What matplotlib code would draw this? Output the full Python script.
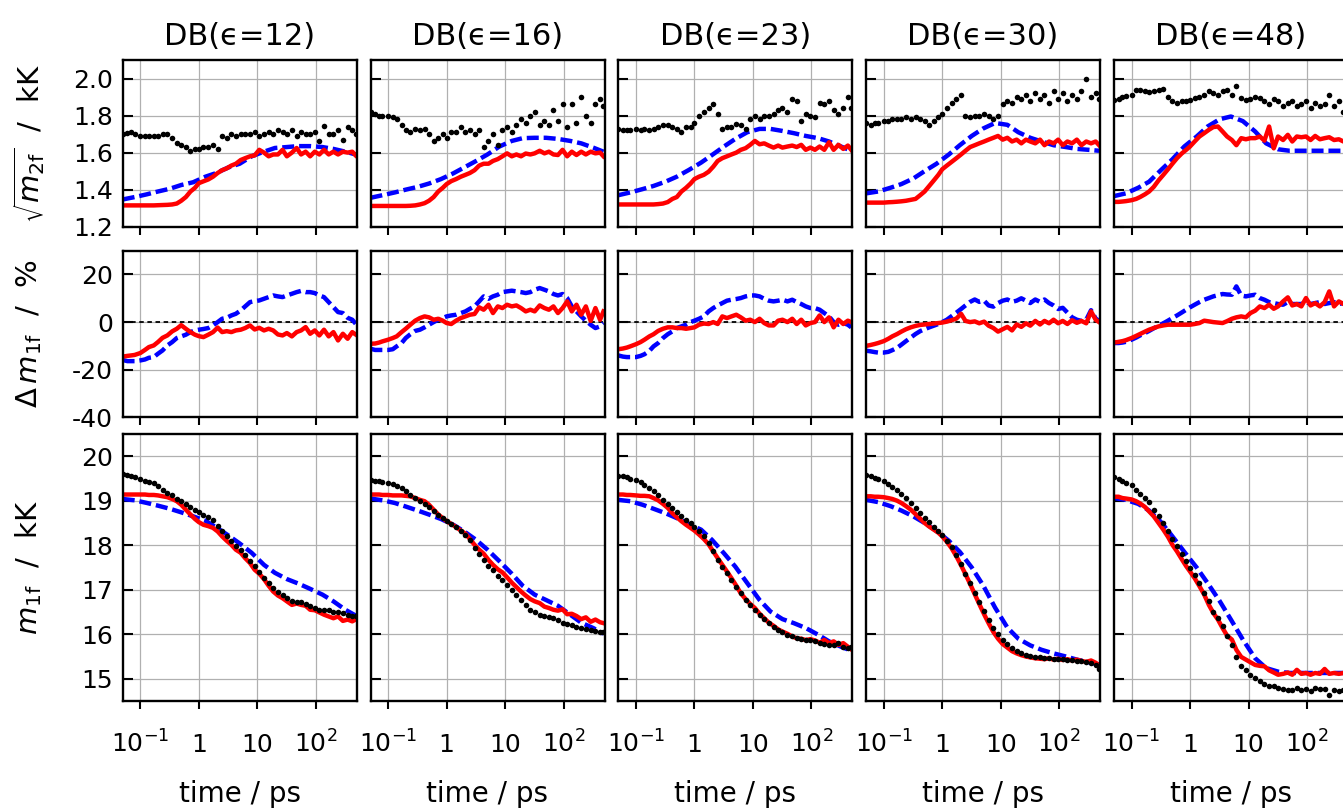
import matplotlib
matplotlib.use("Agg")
import matplotlib.pyplot as plt
from matplotlib.ticker import FixedLocator, FixedFormatter, LogLocator, NullFormatter

plt.rcParams['font.family'] = ['DejaVu Sans']
plt.rcParams['mathtext.fontset'] = 'dejavusans'
plt.rcParams['axes.unicode_minus'] = False

# --- data ---------------------------------------------------------------
eps_list = [12, 16, 23, 30, 48]

t_fine = [0.05, 0.06, 0.07, 0.08, 0.1, 0.12, 0.14, 0.17, 0.2, 0.24,
          0.29, 0.35, 0.42, 0.5, 0.6, 0.72, 0.86, 1.0, 1.2, 1.45,
          1.75, 2.1, 2.5, 3.0, 3.6, 4.3, 5.2, 6.2, 7.5, 9.0,
          10.8, 13, 15.6, 18.7, 22.5, 27, 32, 39, 47, 56,
          67, 80, 96, 115, 138, 166, 200, 240, 290, 350,
          420, 480]
t_coarse = [0.05, 0.08, 0.13, 0.2, 0.32, 0.5, 0.8, 1.3, 2, 3.2,
            5, 8, 13, 20, 32, 50, 80, 130, 200, 320, 480]

# sqrt(m2f) / kK
dots_sq_12 = [1.70, 1.705, 1.71, 1.70, 1.69, 1.69, 1.69, 1.69, 1.69, 1.70,
              1.70, 1.68, 1.65, 1.64, 1.63, 1.61, 1.62, 1.62, 1.63, 1.63,
              1.64, 1.62, 1.69, 1.68, 1.70, 1.69, 1.70, 1.70, 1.70, 1.71,
              1.69, 1.70, 1.71, 1.70, 1.72, 1.71, 1.70, 1.72, 1.69, 1.71,
              1.70, 1.70, 1.71, 1.66, 1.745, 1.70, 1.70, 1.72, 1.67, 1.74,
              1.72, 1.70]
red_sq_12 = [1.315, 1.315, 1.315, 1.315, 1.315, 1.315, 1.315, 1.315, 1.316, 1.317,
             1.318, 1.32, 1.325, 1.34, 1.36, 1.39, 1.41, 1.435, 1.445, 1.455,
             1.47, 1.49, 1.505, 1.515, 1.53, 1.54, 1.56, 1.57, 1.58, 1.585,
             1.615, 1.60, 1.58, 1.59, 1.59, 1.615, 1.58, 1.60, 1.625, 1.59,
             1.605, 1.58, 1.605, 1.59, 1.615, 1.59, 1.605, 1.59, 1.605, 1.60,
             1.605, 1.585]
blue_sq_12 = [1.347, 1.36, 1.375, 1.39, 1.405, 1.425, 1.44, 1.47, 1.49, 1.52,
              1.54, 1.58, 1.605, 1.625, 1.63, 1.635, 1.635, 1.63, 1.62, 1.605, 1.59]

dots_sq_16 = [1.82, 1.81, 1.80, 1.80, 1.80, 1.79, 1.78, 1.75, 1.72, 1.71,
              1.73, 1.72, 1.73, 1.70, 1.66, 1.68, 1.70, 1.68, 1.71, 1.71,
              1.74, 1.71, 1.72, 1.70, 1.72, 1.63, 1.66, 1.70, 1.64, 1.72,
              1.74, 1.71, 1.75, 1.78, 1.76, 1.80, 1.82, 1.75, 1.77, 1.75,
              1.83, 1.77, 1.86, 1.74, 1.86, 1.76, 1.90, 1.80, 1.76, 1.86,
              1.89, 1.85]
red_sq_16 = [1.312, 1.312, 1.312, 1.312, 1.312, 1.312, 1.312, 1.312, 1.312, 1.313,
             1.315, 1.32, 1.327, 1.34, 1.36, 1.39, 1.41, 1.43, 1.446, 1.457,
             1.47, 1.48, 1.49, 1.505, 1.53, 1.54, 1.54, 1.555, 1.565, 1.58,
             1.596, 1.58, 1.59, 1.58, 1.595, 1.59, 1.596, 1.61, 1.596, 1.605,
             1.59, 1.587, 1.615, 1.58, 1.605, 1.587, 1.605, 1.59, 1.605, 1.596,
             1.60, 1.58]
blue_sq_16 = [1.356, 1.37, 1.385, 1.40, 1.415, 1.433, 1.457, 1.488, 1.52, 1.555,
              1.59, 1.633, 1.663, 1.678, 1.68, 1.68, 1.674, 1.663, 1.65, 1.627, 1.605]

dots_sq_23 = [1.73, 1.72, 1.72, 1.72, 1.73, 1.72, 1.73, 1.72, 1.73, 1.74,
              1.75, 1.75, 1.74, 1.73, 1.71, 1.74, 1.74, 1.76, 1.80, 1.82,
              1.84, 1.86, 1.81, 1.73, 1.74, 1.74, 1.755, 1.75, 1.73, 1.78,
              1.80, 1.78, 1.80, 1.80, 1.81, 1.83, 1.84, 1.82, 1.89, 1.88,
              1.77, 1.81, 1.80, 1.79, 1.87, 1.86, 1.88, 1.83, 1.81, 1.84,
              1.90, 1.84]
red_sq_23 = [1.32, 1.32, 1.32, 1.32, 1.32, 1.32, 1.32, 1.32, 1.32, 1.322,
             1.325, 1.333, 1.35, 1.36, 1.39, 1.41, 1.433, 1.457, 1.47, 1.48,
             1.497, 1.524, 1.555, 1.57, 1.58, 1.59, 1.60, 1.615, 1.624, 1.642,
             1.663, 1.645, 1.65, 1.638, 1.627, 1.638, 1.627, 1.633, 1.638, 1.63,
             1.642, 1.615, 1.627, 1.615, 1.633, 1.615, 1.656, 1.615, 1.642, 1.62,
             1.638, 1.615]
blue_sq_23 = [1.37, 1.385, 1.403, 1.42, 1.443, 1.47, 1.506, 1.546, 1.587, 1.633,
              1.674, 1.71, 1.728, 1.728, 1.717, 1.705, 1.69, 1.678, 1.66, 1.633, 1.61]

dots_sq_30 = [1.76, 1.75, 1.76, 1.76, 1.77, 1.77, 1.78, 1.78, 1.78, 1.79,
              1.78, 1.79, 1.78, 1.77, 1.75, 1.77, 1.79, 1.81, 1.84, 1.87,
              1.89, 1.91, 1.80, 1.79, 1.80, 1.80, 1.81, 1.80, 1.78, 1.80,
              1.86, 1.88, 1.87, 1.90, 1.89, 1.91, 1.88, 1.92, 1.89, 1.91,
              1.87, 1.93, 1.89, 1.92, 1.88, 1.91, 1.89, 1.93, 2.00, 1.90,
              1.92, 1.89]
red_sq_30 = [1.33, 1.33, 1.33, 1.33, 1.33, 1.332, 1.333, 1.335, 1.337, 1.34,
             1.345, 1.35, 1.37, 1.39, 1.42, 1.45, 1.48, 1.51, 1.53, 1.55,
             1.57, 1.59, 1.61, 1.63, 1.64, 1.65, 1.66, 1.67, 1.68, 1.69,
             1.67, 1.68, 1.66, 1.67, 1.65, 1.67, 1.66, 1.65, 1.67, 1.64,
             1.66, 1.65, 1.67, 1.64, 1.66, 1.65, 1.67, 1.64, 1.66, 1.65,
             1.66, 1.64]
blue_sq_30 = [1.38, 1.39, 1.41, 1.43, 1.46, 1.50, 1.54, 1.59, 1.64, 1.69,
              1.73, 1.76, 1.75, 1.71, 1.68, 1.66, 1.64, 1.63, 1.62, 1.615, 1.61]

dots_sq_48 = [1.886, 1.89, 1.90, 1.905, 1.91, 1.937, 1.937, 1.93, 1.926, 1.93,
              1.94, 1.944, 1.90, 1.88, 1.87, 1.877, 1.877, 1.886, 1.895, 1.90,
              1.91, 1.93, 1.92, 1.91, 1.93, 1.94, 1.91, 1.96, 1.895, 1.886,
              1.89, 1.90, 1.895, 1.877, 1.864, 1.89, 1.88, 1.853, 1.868, 1.877,
              1.85, 1.864, 1.88, 1.84, 1.868, 1.85, 1.86, 1.91, 1.853, 1.877,
              1.82, 1.85]
red_sq_48 = [1.334, 1.334, 1.336, 1.338, 1.343, 1.35, 1.36, 1.375, 1.39, 1.415,
             1.45, 1.48, 1.51, 1.54, 1.57, 1.595, 1.615, 1.633, 1.66, 1.687,
             1.705, 1.723, 1.738, 1.741, 1.714, 1.687, 1.668, 1.64, 1.678, 1.672,
             1.678, 1.678, 1.687, 1.665, 1.741, 1.623, 1.687, 1.668, 1.696, 1.66,
             1.687, 1.683, 1.687, 1.668, 1.69, 1.672, 1.678, 1.683, 1.668, 1.672,
             1.66, 1.67]
blue_sq_48 = [1.365, 1.38, 1.41, 1.443, 1.506, 1.564, 1.633, 1.687, 1.741, 1.78,
              1.795, 1.77, 1.714, 1.65, 1.618, 1.61, 1.61, 1.61, 1.61, 1.61, 1.61]

# Delta m1f / %
red_dm_12 = [-14.5, -14.2, -14.0, -13.8, -13.0, -11.7, -10.5, -9.8, -8.4, -6.6,
             -5.6, -3.9, -2.8, -1.3, -2.8, -4.2, -5.3, -5.9, -6.3, -5.3,
             -4.2, -2.3, -4.2, -3.8, -4.2, -3.5, -3.2, -2.5, -1.4, -3.1,
             -2.4, -3.5, -2.8, -3.5, -5.2, -5.6, -4.6, -6.0, -4.2, -3.5,
             -2.1, -4.9, -3.5, -5.6, -3.2, -6.0, -4.2, -7.7, -4.9, -7.0,
             -4.2, -5.2]
blue_dm_12 = [-15.9, -16.4, -16.4, -16.4, -16.1, -15.7, -15.0, -14.7, -13.3, -11.9,
              -9.8, -8.4, -6.7, -6.0, -5.3, -4.2, -3.5, -3.2, -2.9, -2.5,
              -1.4, 0.0, 1.4, 1.8, 2.8, 3.5, 4.9, 6.6, 8.4, 8.8,
              9.1, 9.8, 10.5, 11.2, 10.8, 10.5, 11.2, 11.9, 12.6, 13.1,
              12.6, 12.6, 12.2, 11.2, 10.5, 8.4, 6.3, 4.2, 3.8, 1.8,
              1.0, -0.7]

red_dm_16 = [-9.1, -9.0, -8.6, -8.1, -7.4, -6.7, -6.0, -4.2, -2.8, -1.1,
             0.6, 1.7, 2.4, 2.0, 1.0, 1.4, 0.6, -0.4, -0.8, 0.6,
             1.7, 2.4, 3.1, 3.4, 6.2, 5.2, 7.3, 3.8, 6.6, 5.9,
             7.3, 6.6, 7.0, 5.9, 4.5, 5.2, 4.5, 7.0, 5.9, 5.2,
             6.6, 3.8, 5.9, 8.7, 4.5, 7.3, 3.1, 6.6, 0.5, 5.9,
             1.0, 4.5]
blue_dm_16 = [-11.2, -11.7, -11.7, -11.7, -11.7, -11.4, -10.2, -8.8, -6.7, -5.1,
              -3.7, -3.2, -2.2, -1.1, 0.0, 1.0, 1.7, 2.4, 2.8, 3.1,
              3.8, 4.5, 5.6, 6.6, 8.7, 10.8, 9.8, 10.8, 11.5, 12.6,
              12.9, 13.2, 12.9, 12.6, 12.2, 12.6, 13.6, 14.3, 13.6, 12.9,
              11.8, 11.2, 11.8, 10.1, 6.6, 4.5, 2.4, 0.6, -1.1, -2.5,
              -1.8, -0.4]

red_dm_23 = [-11.4, -11.1, -10.7, -10.2, -9.3, -8.4, -7.4, -6.0, -5.1, -3.7,
             -2.8, -2.2, -2.2, -2.5, -2.5, -2.8, -2.5, -2.2, -1.1, -0.6,
             -0.8, 0.0, -0.8, 2.4, 1.7, 2.4, 3.1, 2.0, 0.6, 1.0,
             0.0, 1.4, -0.4, -1.4, -1.4, 0.6, 1.0, 0.0, 1.4, -0.8,
             1.0, -1.4, -0.4, 0.0, 2.8, 0.0, 2.0, -2.2, 1.0, -0.8,
             0.6, 0.0]
blue_dm_23 = [-14.0, -14.5, -14.7, -14.7, -14.7, -14.2, -13.5, -12.1, -10.2, -8.8,
              -6.7, -5.1, -3.9, -2.5, -1.8, -1.1, 0.0, 0.6, 1.4, 2.4,
              4.5, 5.9, 7.0, 8.0, 9.0, 9.4, 9.7, 10.1, 10.8, 11.2,
              11.2, 10.8, 9.8, 9.0, 8.7, 9.0, 9.4, 8.7, 9.4, 8.4,
              7.6, 6.6, 5.9, 5.9, 5.2, 3.8, 2.4, 0.0, -1.1, -0.4,
              -1.1, -2.2]

red_dm_30 = [-10.0, -9.6, -9.2, -8.8, -8.0, -7.0, -6.0, -5.0, -4.0, -3.0,
             -2.2, -1.6, -1.2, -1.0, -0.8, -0.6, -0.4, -0.2, 0.2, 0.8,
             1.5, 3.5, 0.5, 0.0, 0.3, -0.5, 0.2, -1.5, -2.5, -4.0,
             -3.0, -2.0, -3.5, -1.0, -2.0, -0.5, -1.5, 0.5, -1.0, 0.5,
             -0.5, 1.0, -0.5, 0.5, -0.8, 0.8, -0.3, 0.5, -0.5, 4.5,
             1.0, 0.0]
blue_dm_30 = [-12.0, -12.3, -12.6, -12.8, -12.8, -12.5, -11.8, -10.8, -9.5, -8.0,
              -6.5, -5.0, -3.8, -3.0, -2.2, -1.5, -0.8, 0.0, 1.0, 2.5,
              4.0, 5.5, 7.0, 8.5, 9.5, 8.5, 9.0, 7.0, 6.5, 8.0,
              9.0, 9.5, 8.5, 9.0, 10.0, 9.0, 8.0, 9.5, 8.5, 9.5,
              8.0, 7.0, 5.5, 6.0, 4.0, 2.0, 1.0, 0.5, 1.0, 5.0,
              1.5, 0.5]

red_dm_48 = [-8.6, -8.3, -8.0, -7.6, -6.7, -5.8, -5.0, -4.0, -3.2, -2.5,
             -1.8, -1.4, -1.1, -1.1, -1.1, -1.1, -1.1, -1.1, -0.8, -0.4,
             0.6, 0.3, 0.0, -0.2, -0.4, 0.4, 1.4, 2.0, 2.4, 2.0,
             3.8, 4.8, 6.6, 5.9, 7.3, 5.6, 6.6, 8.7, 10.4, 7.0,
             7.6, 6.6, 10.1, 7.0, 8.0, 6.6, 8.4, 12.9, 6.6, 8.7,
             7.6, 8.0]
blue_dm_48 = [-8.8, -8.8, -8.6, -8.3, -7.4, -6.5, -5.6, -4.6, -3.7, -2.6,
              -1.5, -0.5, 0.6, 1.7, 2.8, 4.0, 5.2, 6.2, 7.3, 8.4,
              9.4, 10.1, 10.8, 11.3, 11.8, 11.6, 11.5, 15.0, 11.2, 10.8,
              11.2, 11.5, 10.1, 9.4, 8.4, 8.0, 7.6, 7.3, 8.4, 7.6,
              7.6, 7.6, 8.4, 7.6, 8.0, 8.4, 7.6, 8.0, 8.4, 7.6,
              8.0, 8.0]

# m1f / kK
dots_m1_12 = [19.60, 19.57, 19.55, 19.53, 19.49, 19.45, 19.42, 19.39, 19.33, 19.25,
              19.18, 19.12, 19.05, 18.99, 18.93, 18.86, 18.80, 18.74, 18.69, 18.64,
              18.56, 18.44, 18.31, 18.20, 18.09, 17.98, 17.89, 17.77, 17.64, 17.53,
              17.41, 17.26, 17.15, 17.04, 16.96, 16.89, 16.81, 16.74, 16.72, 16.72,
              16.68, 16.63, 16.59, 16.55, 16.54, 16.55, 16.51, 16.50, 16.48, 16.44,
              16.42, 16.40]
red_m1_12 = [19.14, 19.14, 19.14, 19.14, 19.14, 19.14, 19.13, 19.13, 19.12, 19.10,
             19.08, 19.04, 18.99, 18.91, 18.80, 18.69, 18.59, 18.52, 18.46, 18.43,
             18.39, 18.31, 18.20, 18.10, 18.01, 17.90, 17.83, 17.71, 17.60, 17.45,
             17.36, 17.24, 17.09, 16.96, 16.87, 16.81, 16.74, 16.66, 16.69, 16.66,
             16.64, 16.55, 16.54, 16.49, 16.44, 16.40, 16.36, 16.40, 16.30, 16.33,
             16.29, 16.33]
blue_m1_12 = [19.04, 19.01, 18.95, 18.89, 18.82, 18.74, 18.65, 18.55, 18.40, 18.22,
              18.04, 17.83, 17.56, 17.38, 17.24, 17.14, 17.02, 16.89, 16.74, 16.55, 16.42]

dots_m1_16 = [19.46, 19.45, 19.44, 19.42, 19.40, 19.38, 19.34, 19.29, 19.23, 19.14,
              19.06, 19.00, 18.93, 18.86, 18.78, 18.69, 18.61, 18.54, 18.48, 18.41,
              18.31, 18.24, 18.12, 17.94, 17.81, 17.66, 17.54, 17.45, 17.32, 17.21,
              17.11, 17.00, 16.89, 16.77, 16.66, 16.55, 16.49, 16.44, 16.41, 16.38,
              16.36, 16.31, 16.25, 16.23, 16.21, 16.17, 16.14, 16.11, 16.10, 16.08,
              16.06, 16.04]
red_m1_16 = [19.14, 19.14, 19.14, 19.13, 19.13, 19.12, 19.12, 19.12, 19.11, 19.10,
             19.06, 19.02, 18.99, 18.91, 18.80, 18.69, 18.61, 18.54, 18.48, 18.41,
             18.33, 18.26, 18.14, 18.01, 17.90, 17.81, 17.67, 17.56, 17.46, 17.39,
             17.28, 17.16, 17.06, 16.96, 16.87, 16.79, 16.74, 16.70, 16.62, 16.59,
             16.55, 16.53, 16.56, 16.45, 16.46, 16.41, 16.34, 16.38, 16.28, 16.33,
             16.27, 16.25]
blue_m1_16 = [19.05, 19.01, 18.95, 18.87, 18.78, 18.69, 18.59, 18.46, 18.31, 18.12,
              17.90, 17.64, 17.36, 17.09, 16.89, 16.77, 16.64, 16.44, 16.26, 16.14, 16.01]

dots_m1_23 = [19.56, 19.55, 19.53, 19.50, 19.47, 19.42, 19.36, 19.29, 19.23, 19.14,
              19.02, 18.93, 18.84, 18.74, 18.66, 18.57, 18.50, 18.42, 18.31, 18.21,
              18.05, 17.86, 17.67, 17.52, 17.37, 17.22, 17.07, 16.92, 16.77, 16.66,
              16.55, 16.44, 16.34, 16.25, 16.17, 16.10, 16.04, 15.99, 15.95, 15.91,
              15.89, 15.87, 15.86, 15.84, 15.80, 15.79, 15.76, 15.76, 15.80, 15.72,
              15.69, 15.72]
red_m1_23 = [19.14, 19.14, 19.13, 19.13, 19.12, 19.11, 19.11, 19.10, 19.06, 19.01,
             18.93, 18.84, 18.72, 18.63, 18.54, 18.46, 18.39, 18.33, 18.24, 18.14,
             18.02, 17.86, 17.71, 17.56, 17.41, 17.26, 17.09, 16.92, 16.79, 16.68,
             16.59, 16.46, 16.36, 16.26, 16.19, 16.11, 16.06, 16.01, 15.95, 15.91,
             15.90, 15.87, 15.89, 15.86, 15.81, 15.87, 15.80, 15.84, 15.76, 15.80,
             15.72, 15.66]
blue_m1_23 = [19.02, 18.99, 18.91, 18.82, 18.72, 18.61, 18.48, 18.35, 18.12, 17.82,
              17.52, 17.15, 16.77, 16.51, 16.34, 16.25, 16.14, 15.99, 15.84, 15.72, 15.63]

dots_m1_30 = [19.57, 19.55, 19.52, 19.49, 19.44, 19.38, 19.32, 19.24, 19.16, 19.06,
              18.95, 18.84, 18.73, 18.62, 18.52, 18.42, 18.32, 18.23, 18.10, 17.95,
              17.77, 17.57, 17.36, 17.15, 16.93, 16.72, 16.52, 16.33, 16.15, 16.00,
              15.88, 15.78, 15.70, 15.63, 15.58, 15.54, 15.52, 15.50, 15.48, 15.47,
              15.46, 15.45, 15.44, 15.45, 15.43, 15.42, 15.41, 15.40, 15.38, 15.35,
              15.30, 15.22]
red_m1_30 = [19.10, 19.10, 19.09, 19.09, 19.08, 19.06, 19.04, 19.00, 18.95, 18.88,
             18.80, 18.70, 18.60, 18.50, 18.42, 18.35, 18.28, 18.20, 18.08, 17.93,
             17.75, 17.55, 17.35, 17.13, 16.90, 16.68, 16.45, 16.25, 16.05, 15.90,
             15.78, 15.70, 15.62, 15.57, 15.53, 15.50, 15.48, 15.46, 15.45, 15.44,
             15.46, 15.43, 15.45, 15.42, 15.44, 15.41, 15.43, 15.40, 15.38, 15.41,
             15.36, 15.30]
blue_m1_30 = [19.02, 18.97, 18.88, 18.78, 18.65, 18.50, 18.32, 18.10, 17.85, 17.50,
              17.10, 16.60, 16.15, 15.90, 15.75, 15.65, 15.57, 15.50, 15.43, 15.37, 15.32]

dots_m1_48 = [19.53, 19.49, 19.44, 19.40, 19.35, 19.25, 19.16, 19.06, 18.97, 18.80,
              18.65, 18.49, 18.31, 18.14, 17.98, 17.81, 17.64, 17.49, 17.34, 17.15,
              16.93, 16.74, 16.51, 16.36, 16.18, 15.95, 15.76, 15.49, 15.29, 15.20,
              15.09, 15.01, 14.94, 14.89, 14.84, 14.83, 14.79, 14.77, 14.74, 14.75,
              14.79, 14.74, 14.77, 14.72, 14.79, 14.77, 14.78, 14.64, 14.75, 14.72,
              14.74, 14.73]
red_m1_48 = [19.09, 19.09, 19.06, 19.05, 19.03, 18.99, 18.94, 18.86, 18.76, 18.65,
             18.50, 18.35, 18.19, 18.01, 17.86, 17.69, 17.53, 17.41, 17.26, 17.08,
             16.89, 16.66, 16.48, 16.33, 16.14, 15.97, 15.88, 15.65, 15.49, 15.43,
             15.37, 15.31, 15.29, 15.28, 15.19, 15.14, 15.09, 15.11, 15.14, 15.09,
             15.20, 15.11, 15.13, 15.09, 15.13, 15.11, 15.22, 15.11, 15.13, 15.11,
             15.13, 15.12]
blue_m1_48 = [19.06, 19.02, 18.93, 18.78, 18.52, 18.20, 17.85, 17.50, 17.15, 16.75,
              16.33, 15.88, 15.46, 15.24, 15.16, 15.13, 15.13, 15.13, 15.13, 15.13, 15.13]

dots_sq = [dots_sq_12, dots_sq_16, dots_sq_23, dots_sq_30, dots_sq_48]
red_sq = [red_sq_12, red_sq_16, red_sq_23, red_sq_30, red_sq_48]
blue_sq = [blue_sq_12, blue_sq_16, blue_sq_23, blue_sq_30, blue_sq_48]
red_dm = [red_dm_12, red_dm_16, red_dm_23, red_dm_30, red_dm_48]
blue_dm = [blue_dm_12, blue_dm_16, blue_dm_23, blue_dm_30, blue_dm_48]
dots_m1 = [dots_m1_12, dots_m1_16, dots_m1_23, dots_m1_30, dots_m1_48]
red_m1 = [red_m1_12, red_m1_16, red_m1_23, red_m1_30, red_m1_48]
blue_m1 = [blue_m1_12, blue_m1_16, blue_m1_23, blue_m1_30, blue_m1_48]

row_ticks = [[1.2, 1.4, 1.6, 1.8, 2.0], [-40, -20, 0, 20], [15, 16, 17, 18, 19, 20]]
row_ticklabels = [['1.2', '1.4', '1.6', '1.8', '2.0'], ['-40', '-20', '0', '20'],
                  ['15', '16', '17', '18', '19', '20']]
row_ylim = [(1.2, 2.1), (-40, 30), (14.5, 20.5)]
row_ylabels = [r'$\sqrt{m_{\rm 2f}}$  /  kK', r'$\Delta\,m_{\rm 1f}$  /  %', r'$m_{\rm 1f}$  /  kK']
x_ticks = [0.1, 1, 10, 100]
x_ticklabels = [r'$10^{-1}$', '1', '10', r'$10^{2}$']

# --- layout (pixels of the 1343x809 picture) ----------------------------
W, H = 1343.0, 809.0
col_left = [122.7, 370.5, 618.3, 866.1, 1113.9]
col_w = 234.0
rows = [(60.0, 226.7), (250.7, 417.3), (434.0, 701.0)]
blue_dash = (2.7, 1.1)

fig = plt.figure(figsize=(13.43, 8.09), dpi=100)

for c in range(5):
    for r in range(3):
        top, bot = rows[r]
        ax = fig.add_axes([col_left[c] / W, 1 - bot / H, col_w / W, (bot - top) / H])
        ax.set_xscale('log')
        if r == 0:
            ax.plot(t_coarse, blue_sq[c], color='blue', ls=(0, blue_dash), lw=3.2)
            ax.plot(t_fine, red_sq[c], color='red', lw=3.2)
            ax.plot(t_fine, dots_sq[c], 'o', color='black', ms=4.0, mew=0)
        elif r == 1:
            ax.axhline(0, color='black', ls=(0, (2.5, 2.0)), lw=1.3)
            ax.plot(t_fine, blue_dm[c], color='blue', ls=(0, blue_dash), lw=3.2)
            ax.plot(t_fine, red_dm[c], color='red', lw=3.2)
        else:
            ax.plot(t_coarse, blue_m1[c], color='blue', ls=(0, blue_dash), lw=3.2)
            ax.plot(t_fine, red_m1[c], color='red', lw=3.2)
            ax.plot(t_fine, dots_m1[c], 'o', color='black', ms=4.0, mew=0)

        ax.set_xlim(0.05, 500)
        ax.set_ylim(*row_ylim[r])
        ax.xaxis.set_major_locator(FixedLocator(x_ticks))
        ax.xaxis.set_minor_locator(LogLocator(base=10, subs=[2, 3, 4, 5, 6, 7, 8, 9]))
        ax.xaxis.set_minor_formatter(NullFormatter())
        ax.yaxis.set_major_locator(FixedLocator(row_ticks[r]))
        ax.yaxis.set_major_formatter(FixedFormatter(row_ticklabels[r]))
        ax.grid(True, which='major', color='#b0b0b0', lw=0.9)
        ax.set_axisbelow(True)
        for s in ax.spines.values():
            s.set_linewidth(1.7)

        ax.tick_params(axis='x', which='major', direction='out', length=6, width=1.5,
                       pad=31, labelsize=18)
        ax.tick_params(axis='x', which='minor', direction='out', length=3.5, width=1.2)
        ax.tick_params(axis='y', which='major', direction='in', length=7.5, width=1.5,
                       pad=7, labelsize=18, right=False)
        if r == 2:
            ax.xaxis.set_major_formatter(FixedFormatter(x_ticklabels))
            plt.setp(ax.get_xticklabels(), va='baseline')
        else:
            ax.tick_params(axis='x', labelbottom=False)
        if c > 0:
            ax.tick_params(axis='y', labelleft=False)
        if r == 0:
            ax.set_title('DB(\u03f5=%d)' % eps_list[c], fontsize=22, pad=11)
        if r == 2:
            fig.text((col_left[c] + col_w / 2) / W, 1 - 794 / H, 'time / ps',
                     ha='center', va='center', fontsize=20)

for r in range(3):
    top, bot = rows[r]
    fig.text(29 / W, 1 - (top + bot) / 2 / H, row_ylabels[r], rotation=90,
             ha='center', va='center', fontsize=21)

fig.savefig('out.png', dpi=100)
